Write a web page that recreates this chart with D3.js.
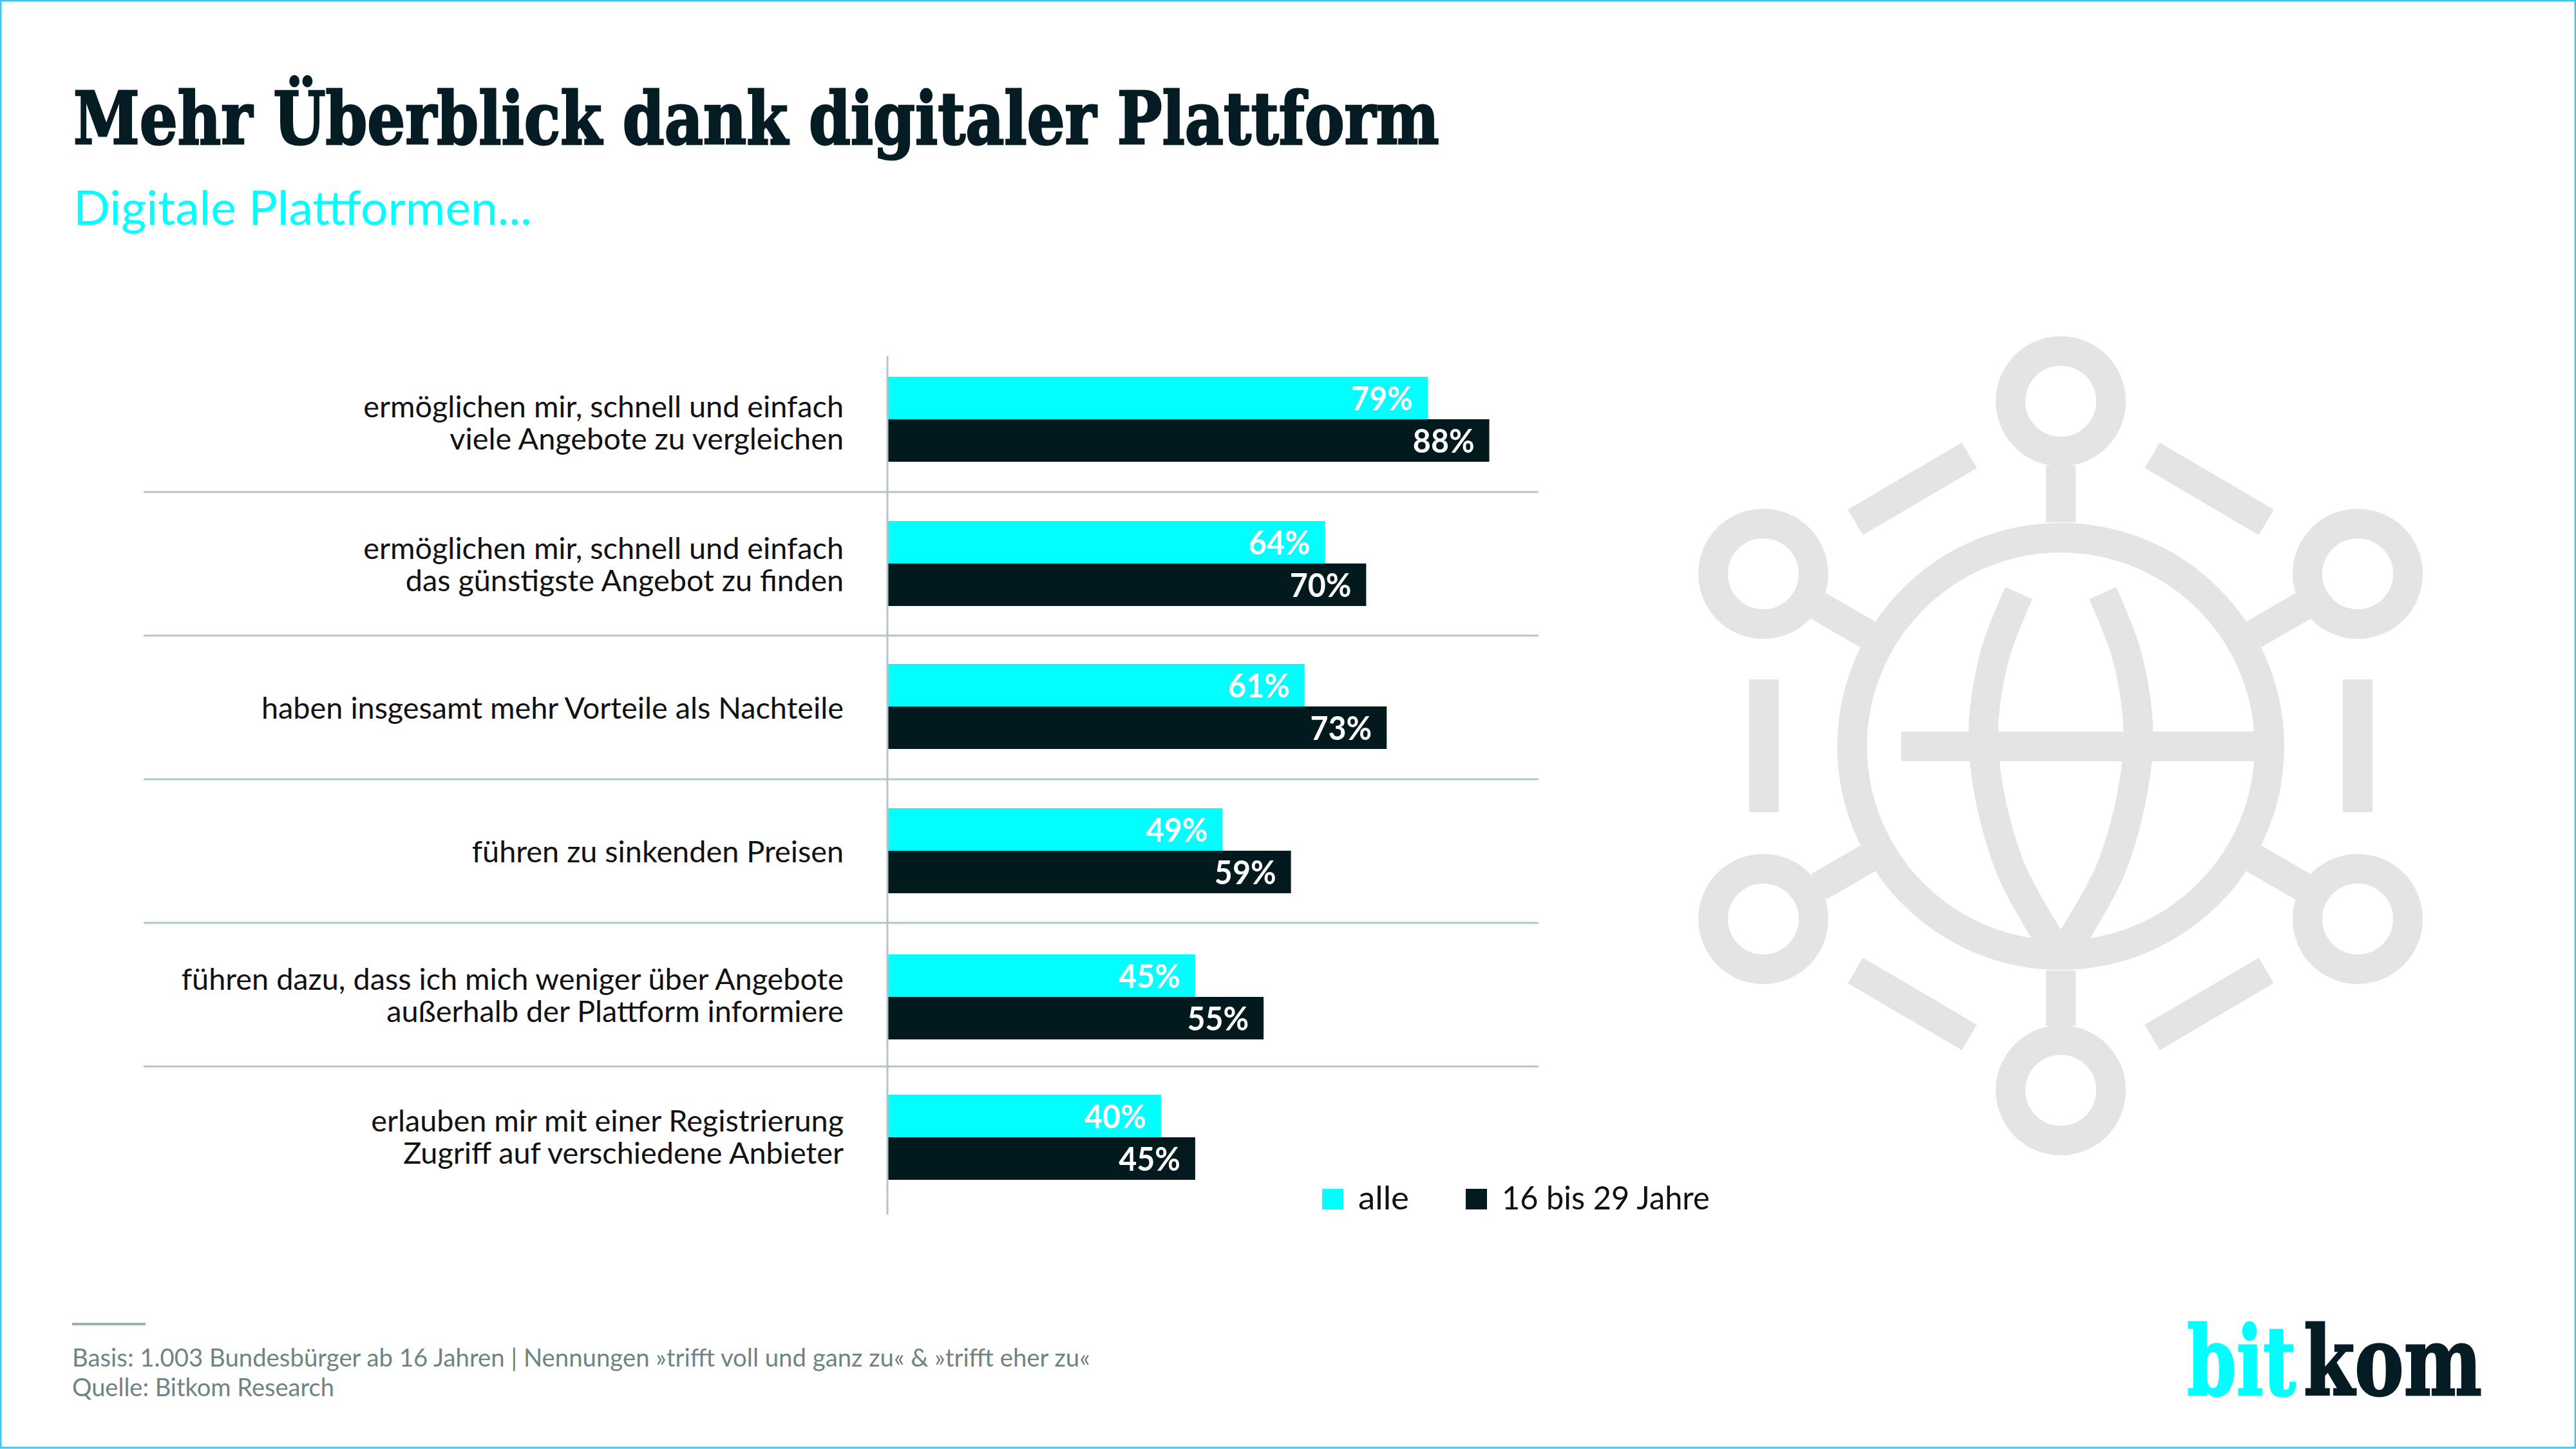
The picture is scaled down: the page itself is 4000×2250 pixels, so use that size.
<!DOCTYPE html>
<html lang="de">
<head>
<meta charset="utf-8">
<title>Mehr Überblick dank digitaler Plattform</title>
<script src="https://d3js.org/d3.v7.min.js"></script>
<style>
  html, body { margin: 0; padding: 0; background: #fff; }
  svg { display: block; }
  text { font-family: "Lato", "Open Sans", sans-serif; }
</style>
</head>
<body>
<div id="chart"></div>
<script>
// Daten
const kategorien = [
  'ermöglichen mir, schnell und einfach\nviele Angebote zu vergleichen',
  'ermöglichen mir, schnell und einfach\ndas günstigste Angebot zu finden',
  'haben insgesamt mehr Vorteile als Nachteile',
  'führen zu sinkenden Preisen',
  'führen dazu, dass ich mich weniger über Angebote\naußerhalb der Plattform informiere',
  'erlauben mir mit einer Registrierung\nZugriff auf verschiedene Anbieter'
];
const serien = ['alle', '16 bis 29 Jahre'];
const werteAlle = [79, 64, 61, 49, 45, 40];
const werteJung = [88, 70, 73, 59, 55, 45];

const CYAN = '#00ffff';
const DUNKEL = '#021a1e';
const LINIE = '#b5c6c6';
const ICON = '#e4e4e4';

// Die Zeilen stehen im Original nicht ganz gleichmaessig
const balkenVersatz = [-1.5, -0.5, -1.5, -0.5, 3.5, -1.5];
const textVersatz = [3.5, 0, 0, 0, 0, -2.5];

const svg = d3.select('#chart').append('svg')
  .attr('width', 4000)
  .attr('height', 2250)
  .attr('viewBox', '0 0 4000 2250');

// Rahmen
svg.append('rect')
  .attr('x', 1).attr('y', 1)
  .attr('width', 3998).attr('height', 2247)
  .attr('fill', '#fff')
  .attr('stroke', '#40c4fa')
  .attr('stroke-width', 3);

// Text auf eine feste Breite stauchen
function schreibe(text, x, y, groesse, farbe, breite, extra) {
  const t = svg.append('text')
    .attr('font-size', groesse)
    .attr('fill', farbe)
    .text(text);
  if (extra) extra(t);
  const faktor = breite ? breite / t.node().getComputedTextLength() : 1;
  t.attr('transform', `translate(${x}, ${y}) scale(${faktor}, 1)`);
  return t;
}

const serif = t => t.style('font-family', '"DejaVu Serif", serif')
  .attr('font-weight', 700)
  .attr('stroke', t.attr('fill'))
  .attr('stroke-width', 3);

// Titel
schreibe('Mehr Überblick dank digitaler Plattform', 114, 223, 113, '#061c24', 2121, serif);
schreibe('Digitale Plattformen...', 114, 349, 73, CYAN, 712);

// Skalen
const x = d3.scaleLinear().domain([0, 100]).range([1378, 2440]);
const y = d3.scaleBand().domain(kategorien).range([541, 1879]);
const yGruppe = d3.scaleBand().domain(serien).range([-66, 66]);

// Trennlinien
svg.append('g').selectAll('line')
  .data(kategorien.slice(1))
  .enter()
  .append('line')
  .attr('x1', 223).attr('x2', 2389)
  .attr('y1', d => y(d)).attr('y2', d => y(d))
  .attr('stroke', LINIE)
  .attr('stroke-width', 3);

// Balken
const gruppen = svg.append('g').selectAll('g')
  .data(kategorien.map((k, i) => ({ k, i, werte: [werteAlle[i], werteJung[i]] })))
  .enter()
  .append('g')
  .attr('transform', d => `translate(0, ${y(d.k) + y.step() / 2 + balkenVersatz[d.i]})`);

const balken = gruppen.selectAll('g')
  .data(d => serien.map((s, i) => ({ s, wert: d.werte[i] })))
  .enter()
  .append('g');

balken.append('rect')
  .attr('x', x(0))
  .attr('y', d => yGruppe(d.s))
  .attr('width', d => x(d.wert) - x(0))
  .attr('height', yGruppe.bandwidth())
  .attr('fill', (d, i) => i === 0 ? CYAN : DUNKEL);

// die Prozentzahlen sind im Original schmaler
balken.append('text')
  .attr('transform', d => `translate(${x(d.wert) - 23}, ${yGruppe(d.s) + 52}) scale(0.93, 1)`)
  .attr('text-anchor', 'end')
  .attr('font-size', 52)
  .attr('font-weight', 700)
  .attr('fill', '#fff')
  .text(d => d.wert + '%');

// Achse mit Beschriftung, jede Zeile als eigener Text
const achse = svg.append('g')
  .attr('transform', `translate(${x(0)}, 0)`)
  .call(d3.axisLeft(y).tickSize(0).tickPadding(68));

achse.select('.domain').remove();
achse.selectAll('.tick text').remove();

achse.selectAll('.tick').each(function (d, r) {
  const zeilen = d.split('\n');
  d3.select(this).selectAll('text')
    .data(zeilen)
    .enter()
    .append('text')
    .attr('x', -68)
    .attr('y', (z, i) => 17 + textVersatz[r] + (i - (zeilen.length - 1) / 2) * 50)
    .attr('font-size', 46.8)
    .attr('fill', '#111')
    .style('font-family', '"Lato", "Open Sans", sans-serif')
    .text(z => z);
});

svg.append('line')
  .attr('x1', x(0)).attr('x2', x(0))
  .attr('y1', 553).attr('y2', 1886)
  .attr('stroke', LINIE)
  .attr('stroke-width', 3);

// Legende
const legendeX = [2053, 2276];
const legendeBreite = [79, 323];
serien.forEach((s, i) => {
  svg.append('rect')
    .attr('x', legendeX[i]).attr('y', 1846)
    .attr('width', 33).attr('height', 32)
    .attr('fill', i === 0 ? CYAN : DUNKEL);
  schreibe(s, legendeX[i] + 56, 1878, 50, '#111', legendeBreite[i]);
});

// Icon
const knoten = [[3200, 623], [3200, 1693], [2738, 891], [3661, 891], [2738, 1427], [3661, 1427]];
const striche = [
  [3200, 723, 3200, 811], [3200, 1507, 3200, 1593],
  [2824, 941, 2900, 985], [3576, 941, 3500, 985],
  [2824, 1377, 2900, 1333], [3576, 1377, 3500, 1333],
  [2881, 811, 3058, 707], [3519, 811, 3342, 707],
  [2881, 1507, 3058, 1611], [3519, 1507, 3342, 1611],
  [2739, 1055, 2739, 1261], [3661, 1055, 3661, 1261],
  [2952, 1159, 3510, 1159]
];
const meridianLinks = [[3135, 921], [3096, 1023], [3080, 1159], [3119, 1341], [3200, 1486]];
const meridianRechts = meridianLinks.map(p => [6400 - p[0], p[1]]);

const icon = svg.append('g')
  .attr('fill', 'none')
  .attr('stroke', ICON)
  .attr('stroke-width', 46);

icon.append('circle').attr('cx', 3200).attr('cy', 1159).attr('r', 324);

icon.selectAll('.knoten')
  .data(knoten)
  .enter()
  .append('circle')
  .attr('class', 'knoten')
  .attr('cx', d => d[0]).attr('cy', d => d[1])
  .attr('r', 78);

icon.selectAll('.strich')
  .data(striche)
  .enter()
  .append('line')
  .attr('class', 'strich')
  .attr('x1', d => d[0]).attr('y1', d => d[1])
  .attr('x2', d => d[2]).attr('y2', d => d[3]);

const kurve = d3.line().curve(d3.curveCatmullRom);
icon.selectAll('.meridian')
  .data([meridianLinks, meridianRechts])
  .enter()
  .append('path')
  .attr('class', 'meridian')
  .attr('d', kurve);

// Fusszeile
svg.append('rect')
  .attr('x', 112).attr('y', 2054)
  .attr('width', 114).attr('height', 4)
  .attr('fill', '#a0b0b0');
schreibe('Basis: 1.003 Bundesbürger ab 16 Jahren | Nennungen »trifft voll und ganz zu« & »trifft eher zu«', 112, 2122, 38, '#6f8482', 1581);
schreibe('Quelle: Bitkom Research', 112, 2168, 38, '#6f8482', 407);

// Logo
schreibe('bit', 3396, 2166, 148, CYAN, 169, serif);
schreibe('kom', 3577, 2166, 148, '#061c24', 277, serif);
</script>
</body>
</html>
